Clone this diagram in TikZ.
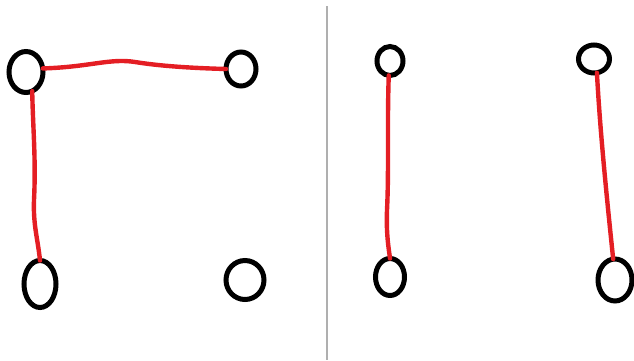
\documentclass[tikz,border=0pt]{standalone}
\usetikzlibrary{shapes.geometric}
\definecolor{penred}{RGB}{228,30,36}
\definecolor{divider}{RGB}{175,175,175}
\tikzset{
  dot/.style={ellipse, draw=black, line width=5pt, inner sep=0pt, outer sep=0pt},
  link/.style={draw=penred, line width=4.4pt, line cap=round},
}
\begin{document}
\begin{tikzpicture}[x=1pt, y=-1pt]
\useasboundingbox (0,0) rectangle (634,360);
% left panel
\node[dot, minimum width=34pt, minimum height=41pt] (a) at (26,72) {};
\node[dot, minimum width=30pt, minimum height=34pt] (b) at (241,69) {};
\node[dot, minimum width=32pt, minimum height=47pt] (c) at (40,284) {};
\node[dot, minimum width=38pt, minimum height=39pt] (d) at (245,280) {};
% right panel
\node[dot, minimum width=26pt, minimum height=29pt] (e) at (390,61) {};
\node[dot, minimum width=31pt, minimum height=28pt] (f) at (594,59) {};
\node[dot, minimum width=29pt, minimum height=37pt] (g) at (390,277) {};
\node[dot, minimum width=34pt, minimum height=42pt] (h) at (615,280) {};
% divider
\coordinate (dtop) at (327,6);
\coordinate (dbot) at (327,360);
\draw[divider, line width=1.2pt] (dtop) -- (dbot);
% connectors
\draw[link] (a.12) .. controls (90,67) and (110,58) .. (135,62)
  .. controls (160,66) and (190,68) .. (b.west);
\draw[link] (a.-72) .. controls (33,130) and (36,160) .. (34,200)
  .. controls (33,225) and (38,240) .. (c.north);
\draw[link] (e.-95) .. controls (387,130) and (389,170) .. (387,210)
  .. controls (386,235) and (389,250) .. (g.north);
\draw[link] (f.-78) .. controls (600,130) and (606,190) .. (h.95);
\end{tikzpicture}
\end{document}
